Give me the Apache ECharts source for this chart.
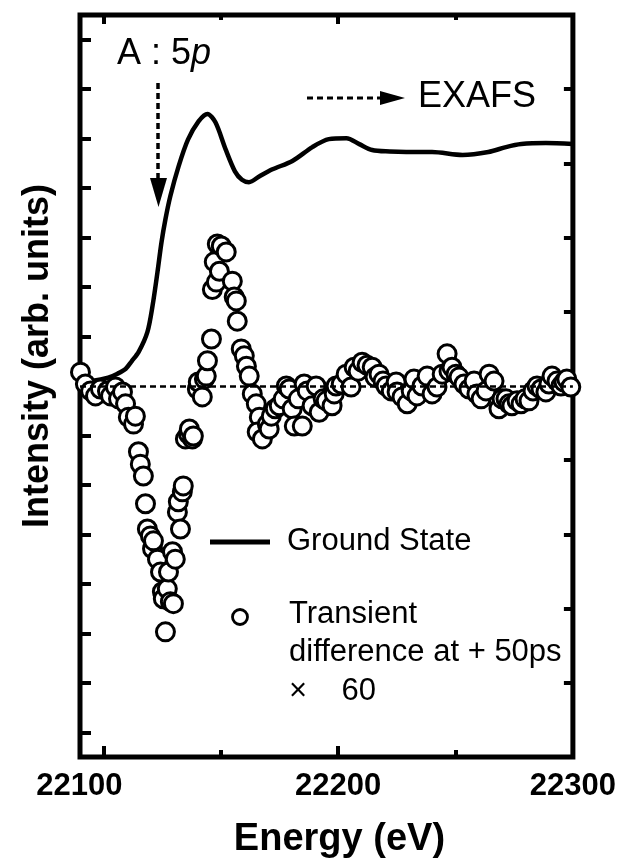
<!DOCTYPE html>
<html>
<head>
<meta charset="utf-8">
<script src="https://cdn.jsdelivr.net/npm/echarts@6/dist/echarts.min.js"></script>
<style>
  html, body { margin: 0; padding: 0; background: #fff; }
  #main { width: 619px; height: 868px; }
</style>
</head>
<body>
<div id="main"></div>
<script>
var FONT = "'Liberation Sans', Arial, sans-serif";

// ground state spectrum (energy, eV / intensity)
var gsE = [22090, 22095, 22102, 22106, 22109.5, 22112, 22115, 22118.7, 22120.9, 22123,
  22124.7, 22126.4, 22128.5, 22132, 22136, 22140.5, 22144.3, 22147.7, 22152, 22156,
  22159, 22162, 22166.5, 22172, 22180.5, 22189, 22196, 22203.5, 22209, 22214.5,
  22222, 22229, 22240, 22253, 22264, 22271.5, 22278, 22288.5, 22300];
var gsV = [0.08, 0.1, 0.17, 0.25, 0.35, 0.5, 0.69, 1.09, 1.62, 2.3,
  2.9, 3.37, 3.84, 4.44, 4.98, 5.35, 5.5, 5.33, 4.79, 4.34,
  4.17, 4.12, 4.24, 4.38, 4.55, 4.83, 4.99, 5.01, 4.89, 4.77,
  4.74, 4.73, 4.73, 4.67, 4.73, 4.83, 4.89, 4.91, 4.89];

// transient difference x 60
var trE = [22090.2, 22092.3, 22094.5, 22096.6, 22098.7, 22101.7, 22103.0, 22105.1, 22106.4, 22108.1,
  22109.4, 22110.6, 22112.8, 22113.6, 22114.9, 22115.7, 22117.0, 22117.9, 22118.7, 22120.0,
  22120.9, 22121.3, 22123.0, 22124.3, 22125.1, 22125.5, 22126.4, 22127.2, 22127.7, 22128.5,
  22129.4, 22129.8, 22130.6, 22131.5, 22131.9, 22132.8, 22133.6, 22134.0, 22134.9, 22136.2,
  22136.6, 22137.9, 22138.3, 22140.0, 22140.4, 22142.1, 22143.0, 22143.8, 22144.3, 22146.0,
  22146.4, 22147.2, 22148.1, 22148.5, 22149.4, 22150.2, 22152.3, 22154.9, 22155.7, 22156.6,
  22157.0, 22158.7, 22160.0, 22160.9, 22162.1, 22163.4, 22165.1, 22166.4, 22165.5, 22167.7,
  22169.8, 22170.6, 22171.5, 22173.2, 22174.9, 22176.6, 22177.9, 22179.1, 22180.4, 22181.3,
  22183.0, 22184.7, 22185.5, 22186.8, 22188.9, 22190.6, 22191.9, 22193.6, 22194.9, 22197.4,
  22198.3, 22199.1, 22201.3, 22203.4, 22205.5, 22206.8, 22208.5, 22210.2, 22212.3, 22214.5,
  22215.7, 22217.4, 22219.1, 22220.4, 22222.6, 22224.7, 22225.1, 22227.2, 22229.4, 22231.1,
  22232.3, 22233.6, 22235.7, 22237.9, 22240.0, 22242.1, 22244.3, 22246.4, 22247.2, 22248.5,
  22250.2, 22251.5, 22253.6, 22255.7, 22257.9, 22259.1, 22260.9, 22263.0, 22264.3, 22266.4,
  22268.5, 22269.8, 22271.5, 22272.8, 22274.0, 22276.2, 22277.9, 22279.6, 22281.3, 22283.0,
  22284.7, 22286.4, 22288.5, 22289.8, 22291.1, 22293.2, 22294.9, 22296.2, 22297.4, 22299.1];
var trV = [0.28, 0.04, -0.10, -0.20, -0.06, -0.10, -0.20, -0.02, -0.26, -0.12,
  -0.36, -0.63, -0.77, -0.61, -1.33, -1.58, -1.82, -2.38, -2.89, -3.03,
  -3.29, -3.13, -3.50, -3.76, -4.16, -4.30, -4.97, -4.10, -3.76, -4.36,
  -3.35, -4.40, -3.50, -2.55, -2.34, -2.89, -2.14, -2.02, -1.07, -0.97,
  -0.87, -1.07, -1.01, -0.06, 0.08, -0.22, 0.14, 0.20, 0.51, 0.95,
  1.95, 2.51, 2.10, 2.87, 2.32, 2.83, 2.71, 2.12, 1.80, 1.72,
  1.31, 0.75, 0.61, 0.40, 0.20, -0.16, -0.36, -0.63, -0.93, -1.07,
  -0.77, -0.87, -0.61, -0.46, -0.40, -0.26, 0, -0.06, -0.46, -0.81,
  -0.26, -0.81, 0.04, -0.10, -0.40, 0, -0.53, -0.26, -0.30, -0.40,
  -0.16, 0, 0.04, 0.24, -0.02, 0.38, 0.30, 0.48, 0.42, 0.38,
  0.18, 0.24, 0.10, 0, -0.10, 0.08, -0.12, -0.22, -0.36, -0.10,
  0.14, -0.20, 0, 0.20, -0.16, -0.02, 0.24, 0.65, 0.30, 0.38,
  0.24, 0.18, 0.04, -0.06, 0.10, -0.16, -0.26, -0.10, 0.24, 0.10,
  -0.46, -0.26, -0.26, -0.36, -0.40, -0.30, -0.36, -0.26, -0.30, -0.10,
  0, -0.06, -0.12, 0.04, 0.20, 0.10, 0, 0.08, 0.14, -0.02];

// axis ticks / labels
var xMajor = [22100, 22200];
var xMinor = [22150, 22250];
var xLabels = [22100, 22200, 22300];
var yLeftTicks = [-7, -6, -5, -4, -3, -2, -1, 0, 1, 2, 3, 4, 5, 6, 7];
var yRightTicks = [-6, -4.5, -3, -1.5, 0, 1.5, 3, 4.5, 6];

var gsData = [];
for (var i = 0; i < gsE.length; i++) gsData.push([gsE[i], gsV[i]]);
var trData = [];
for (var j = 0; j < trE.length; j++) trData.push([trE[j], trV[j]]);

var xBase = function(pos, ticks, len) {
  return {
    type: 'value', position: pos, min: 22090, max: 22300,
    axisLine: { show: false, onZero: false },
    axisTick: { show: true, inside: true, length: len, customValues: ticks,
      lineStyle: { color: '#000', width: 4 } },
    axisLabel: { show: false },
    splitLine: { show: false }
  };
};
var yBase = function(pos, ticks, len) {
  return {
    type: 'value', position: pos, min: -7.5, max: 7.5,
    axisLine: { show: false, onZero: false },
    axisTick: { show: true, inside: true, length: len, customValues: ticks,
      lineStyle: { color: '#000', width: 4 } },
    axisLabel: { show: false },
    splitLine: { show: false }
  };
};

var xMain = xBase('bottom', xMajor, 11);
xMain.axisLabel = {
  show: true, customValues: xLabels, margin: 14,
  formatter: function(v) {
    if (v === 22100) return '{l|' + v + '}';
    return '{b|' + v + '}';
  },
  rich: {
    l: { fontFamily: FONT, fontSize: 31, fontWeight: 'bold', color: '#000', padding: [0, 48, 0, 0] },
    b: { fontFamily: FONT, fontSize: 31, fontWeight: 'bold', color: '#000' }
  }
};
xMain.name = 'Energy (eV)';
xMain.nameLocation = 'middle';
xMain.nameGap = 64;
xMain.nameTextStyle = { fontFamily: FONT, fontSize: 38, fontWeight: 'bold', color: '#000',
  padding: [0, 0, 0, 26] };

var yMain = yBase('left', yLeftTicks, 11);
yMain.name = 'Intensity (arb. units)';
yMain.nameLocation = 'middle';
yMain.nameGap = 24;
yMain.nameTextStyle = { fontFamily: FONT, fontSize: 36, fontWeight: 'bold', color: '#000',
  padding: [0, 0, 0, 60] };

var option = {
  animation: false,
  backgroundColor: '#fff',
  grid: { left: 80, right: 45.5, top: 15, bottom: 111, show: true,
    borderColor: '#000', borderWidth: 5, backgroundColor: 'transparent' },
  xAxis: [xMain, xBase('bottom', xMinor, 7), xBase('top', xMajor, 9), xBase('top', xMinor, 5)],
  yAxis: [yMain, yBase('right', yRightTicks, 9)],
  series: [
    {
      name: 'Ground State', type: 'line', data: gsData, smooth: 0.3,
      showSymbol: false, z: 2,
      lineStyle: { color: '#000', width: 4.5 },
      markLine: {
        silent: true, symbol: 'none', label: { show: false },
        lineStyle: { color: '#000', width: 2.5, type: [6, 4] },
        data: [{ yAxis: 0 }]
      }
    },
    {
      name: 'Transient', type: 'scatter', data: trData, symbol: 'circle',
      symbolSize: 18, z: 3,
      itemStyle: { color: '#fff', borderColor: '#000', borderWidth: 3, opacity: 1 }
    }
  ],
  graphic: [
    { type: 'text', x: 117, y: 54, z: 10, style: {
      text: '{n|A : 5}{i|p}', verticalAlign: 'middle',
      rich: { n: { fontFamily: FONT, fontSize: 36, fill: '#000' },
              i: { fontFamily: FONT, fontSize: 36, fontStyle: 'italic', fill: '#000' } } } },
    { type: 'line', z: 10, shape: { x1: 158, y1: 83, x2: 158, y2: 180 },
      style: { stroke: '#000', lineWidth: 3.5, lineDash: [6, 4] } },
    { type: 'polygon', z: 10, shape: { points: [[150, 178], [167, 178], [158.5, 207]] },
      style: { fill: '#000' } },
    { type: 'line', z: 10, shape: { x1: 307, y1: 98, x2: 382, y2: 98 },
      style: { stroke: '#000', lineWidth: 3, lineDash: [6, 4] } },
    { type: 'polygon', z: 10, shape: { points: [[380, 91], [380, 105], [405, 98]] },
      style: { fill: '#000' } },
    { type: 'text', x: 418, y: 97, z: 10, style: { text: 'EXAFS', fontFamily: FONT,
      fontSize: 36, fill: '#000', verticalAlign: 'middle' } },
    // legend
    { type: 'line', z: 10, shape: { x1: 210, y1: 542, x2: 270, y2: 542 },
      style: { stroke: '#000', lineWidth: 5 } },
    { type: 'text', x: 287, y: 541, z: 10, style: { text: 'Ground State', fontFamily: FONT,
      fontSize: 31, fill: '#000', verticalAlign: 'middle' } },
    { type: 'circle', z: 10, shape: { cx: 240, cy: 617, r: 7.5 },
      style: { fill: '#fff', stroke: '#000', lineWidth: 2.8 } },
    { type: 'text', x: 289, y: 614, z: 10, style: { text: 'Transient', fontFamily: FONT,
      fontSize: 31, fill: '#000', verticalAlign: 'middle' } },
    { type: 'text', x: 289, y: 652, z: 10, style: { text: 'difference at + 50ps', fontFamily: FONT,
      fontSize: 31, fill: '#000', verticalAlign: 'middle' } },
    { type: 'text', x: 289, y: 691, z: 10, style: { text: '\u00d7    60', fontFamily: FONT,
      fontSize: 31, fill: '#000', verticalAlign: 'middle' } }
  ]
};

var myChart = echarts.init(document.getElementById('main'));
myChart.setOption(option);
</script>
</body>
</html>
